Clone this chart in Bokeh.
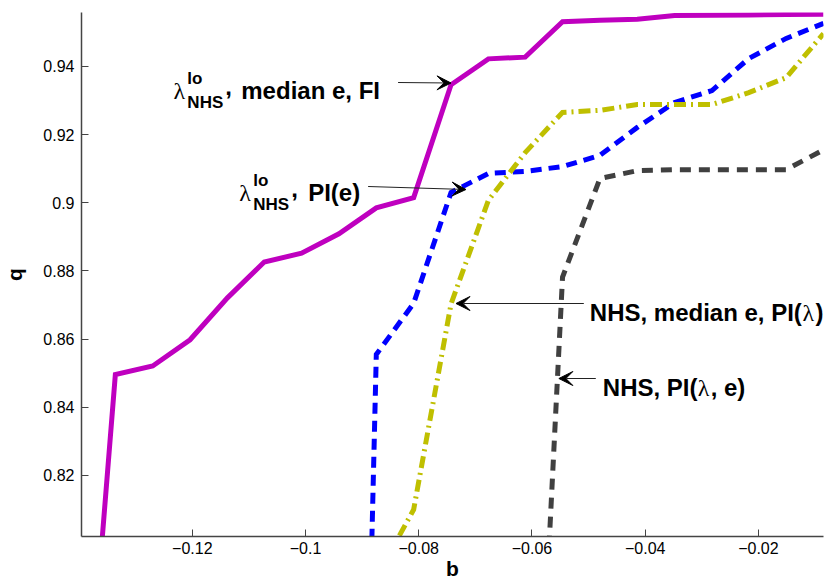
from bokeh.plotting import figure
from bokeh.models import Range1d, Label, Arrow, VeeHead, FixedTicker
from bokeh.embed import file_html
from bokeh.resources import INLINE

# ---------------- data ----------------
B = [-0.1402, -0.1336, -0.1270, -0.1204, -0.1138, -0.1073, -0.1007, -0.0941,
     -0.0875, -0.0809, -0.0743, -0.0677, -0.0612, -0.0546, -0.0480, -0.0414,
     -0.0348, -0.0282, -0.0217, -0.0151, -0.0085]

# lambda_NHS^lo, median e, FI  (magenta, solid)
Q_LO_MEDIAN_FI = [0.713, 0.8496, 0.8521, 0.8598, 0.8721, 0.8826, 0.8852, 0.8909,
                  0.8985, 0.9015, 0.9346, 0.9422, 0.9427, 0.9531, 0.9535, 0.9538,
                  0.9549, 0.9550, 0.9551, 0.9552, 0.9553]
# lambda_NHS^lo, PI(e)  (blue, dashed) starts at B[7]
Q_LO_PI_E = [0.40, 0.8555, 0.8705, 0.9030, 0.9086, 0.9092, 0.9106, 0.9139,
             0.9221, 0.9294, 0.9329, 0.9423, 0.9482, 0.9526]
# NHS, median e, PI(lambda)  (yellow, dash-dot) starts at B[8]
Q_NHS_MEDIAN_PI = [0.79, 0.810, 0.8703, 0.9007, 0.9147, 0.9265, 0.9271, 0.9288,
                   0.9288, 0.9288, 0.9323, 0.9367, 0.9496]
# NHS, PI(lambda, e)  (dark grey, dashed) starts at B[12]
Q_NHS_PI_LE = [0.66, 0.8782, 0.9071, 0.9094, 0.9097, 0.9097, 0.9097, 0.9097, 0.9155]

B_TICKS = [-0.12, -0.1, -0.08, -0.06, -0.04, -0.02]
B_LABELS = ["\u22120.12", "\u22120.1", "\u22120.08", "\u22120.06", "\u22120.04", "\u22120.02"]
Q_TICKS = [0.82, 0.84, 0.86, 0.88, 0.9, 0.92, 0.94]
Q_LABELS = ["0.82", "0.84", "0.86", "0.88", "0.9", "0.92", "0.94"]

X_START, X_END = -0.13958, -0.0085
Y_START, Y_END = 0.8021, 0.9558

# ---------------- figure ----------------
p = figure(width=834, height=582, output_backend="svg", toolbar_location=None,
           x_range=Range1d(X_START, X_END), y_range=Range1d(Y_START, Y_END),
           min_border_left=80, min_border_right=11, min_border_top=12, min_border_bottom=46)
p.grid.visible = False
p.outline_line_color = None
p.background_fill_color = "white"
p.border_fill_color = "white"

for ax, ticks, labels in ((p.xaxis[0], B_TICKS, B_LABELS), (p.yaxis[0], Q_TICKS, Q_LABELS)):
    ax.ticker = FixedTicker(ticks=ticks)
    ax.major_label_overrides = {t: l for t, l in zip(ticks, labels)}
    ax.major_tick_in = 7
    ax.major_tick_out = 0
    ax.minor_tick_line_color = None
    ax.axis_line_color = "#444444"
    ax.axis_line_width = 1.5
    ax.major_tick_line_color = "#444444"
    ax.major_tick_line_width = 1
    ax.major_label_text_font = "Liberation Sans"
    ax.major_label_text_font_size = "16px"
    ax.major_label_text_color = "black"
    ax.axis_label_text_font = "Liberation Sans"
    ax.axis_label_text_font_style = "bold"
    ax.axis_label_text_font_size = "21px"
    ax.axis_label_text_color = "black"
p.xaxis.axis_label = "b"
p.yaxis.axis_label = "q"
p.xaxis.major_label_standoff = 5
p.xaxis.axis_label_standoff = 0
p.yaxis.major_label_standoff = 7
p.yaxis.axis_label_standoff = 14

# ---------------- lines ----------------
p.line(B, Q_LO_MEDIAN_FI, line_color="#BF00BF", line_width=5, line_join="miter")
p.line(B[7:], Q_LO_PI_E, line_color="#0000FF", line_width=5, line_dash="11 7", line_join="miter")
p.line(B[8:], Q_NHS_MEDIAN_PI, line_color="#BFBF00", line_width=5, line_dash="12 5 2 5", line_join="miter")
p.line(B[12:], Q_NHS_PI_LE, line_color="#404040", line_width=5, line_dash="11 8", line_join="miter")

# ---------------- annotations (positions in page pixels -> data) ----------------
def dx(px):
    return X_START + (px - 80) / (823 - 80) * (X_END - X_START)

def dy(py):
    return Y_START + (536 - py) / (536 - 12) * (Y_END - Y_START)

def txt(s, px, py, size=24, bold=True, font="Liberation Sans"):
    p.add_layout(Label(x=dx(px), y=dy(py), text=s, text_font=font,
                       text_font_size=f"{size}px", text_font_style="bold" if bold else "normal",
                       text_color="black", text_align="left", text_baseline="alphabetic"))

def arrow(x0, y0, x1, y1):
    p.add_layout(Arrow(x_start=dx(x0), y_start=dy(y0), x_end=dx(x1), y_end=dy(y1),
                       line_color="#222222", line_width=1,
                       end=VeeHead(size=14, fill_color="black", line_color="black", line_width=1)))

LAMBDA = "\u03bb"
# annotation 1
txt(LAMBDA, 172, 90, bold=False, font="Liberation Serif")
txt("lo", 186, 78, size=17)
txt("NHS", 186, 102, size=17)
txt(",", 224, 86)
txt("median e, FI", 240, 90)
arrow(397, 82, 450, 82.5)
# annotation 2
txt(LAMBDA, 238, 192, bold=False, font="Liberation Serif")
txt("lo", 252, 180, size=17)
txt("NHS", 252, 204, size=17)
txt(",", 290, 188)
txt("PI(e)", 307, 192)
arrow(367, 186, 465, 189)
# annotation 3
txt("NHS, median e, PI(", 589, 312)
txt(LAMBDA, 802, 312, bold=False, font="Liberation Serif")
txt(")", 815, 312)
arrow(583, 303, 455, 303)
# annotation 4
txt("NHS, PI(", 602, 387)
txt(LAMBDA, 697, 387, bold=False, font="Liberation Serif")
txt(", e)", 710, 387)
arrow(595, 378, 558, 378)

open("out.html", "w").write(file_html(p, INLINE))
